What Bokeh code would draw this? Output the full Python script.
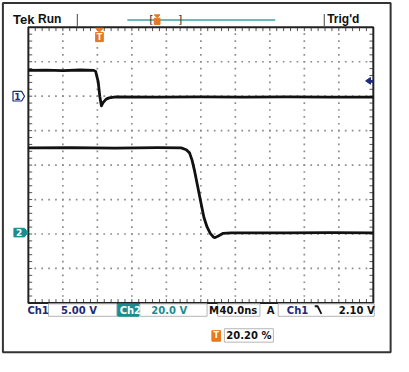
import numpy as np
from bokeh.plotting import figure
from bokeh.models import Range1d
from bokeh.core.properties import value
from bokeh.embed import file_html
from bokeh.resources import INLINE

# ---------------- data ----------------
# time in ns (40 ns/div, 10 div), voltages in V
ch1_t = [0, 20, 40, 60, 75.8, 78.0, 81.0, 82.8, 84.7, 86.6, 90.2, 93.6, 101.4, 150, 200, 250, 300, 350, 400]
ch1_v = [3.75, 3.78, 3.72, 3.8, 3.75, 3.6, 2.08, 0.0, -1.39, -0.93, -0.42, -0.24, -0.1, -0.12, -0.1, -0.12, -0.1, -0.14, -0.12]
ch2_t = [0, 50, 100, 150, 177.2, 183.1, 186.9, 189.8, 192.4, 196.1, 199.8, 203.6, 207.2, 210.9, 214.7, 216.5, 220.3, 225.9, 235.1, 300, 350, 400]
ch2_v = [50, 50.2, 49.8, 50.1, 50, 48.9, 47.1, 42.9, 37.4, 28.2, 18.9, 9.6, 4.1, 0.4, -1.8, -2.1, -1.1, 0.4, 0.7, 0.6, 0.8, 0.7]
ch1_scale, ch1_offset = 5.0, 2.0     # V/div, ground position (div)
ch2_scale, ch2_offset = 20.0, -2.0
time_per_div = 40.0
labels_bottom = ["Ch1", "5.00 V", "Ch2", "20.0 V", "M", "40.0ns", "A", "Ch1", "2.10 V"]
trig_pos = "20.20 %"

# ---------------- layout helpers (reference pixel -> data) ----------------
def X(rx):
    return (rx - 29.0) * (10 * time_per_div) / 359.0

def Y(ry):
    return (172.0 - ry) / 36.0

W, H = 393, 356
p = figure(width=W, height=H, output_backend="svg", toolbar_location=None,
           x_range=Range1d(X(0), X(409)), y_range=Range1d(Y(372), Y(0)),
           x_axis_type=None, y_axis_type=None, min_border=0,
           background_fill_color="white", border_fill_color="white")
p.grid.visible = False
p.outline_line_color = None

NAVY = "#1f2a78"
TEAL = "#1e8c8e"
ORANGE = "#e8781e"
FONT = value("DejaVu Sans")

# outer frame
p.quad(left=[X(2.5)], right=[X(406)], top=[Y(2.5)], bottom=[Y(367.5)], fill_color=None,
       line_color="#333333", line_width=2)

# ---------------- graticule ----------------
T = 10 * time_per_div
gx, gy = [], []
for k in range(1, 10):
    for yy in np.arange(-3.8, 3.81, 0.2):
        gx.append(k * time_per_div); gy.append(yy)
for j in range(-3, 4):
    for xx in np.arange(time_per_div / 5, T - 1, time_per_div / 5):
        gx.append(xx); gy.append(j)
p.scatter(gx, gy, marker="square", size=1.7, fill_color="#8c8c8c", line_color=None)

tl_x = 4 * T / 359.0
tl_y = 4 / 36.0
tx = np.arange(time_per_div / 5, T - 1, time_per_div / 5)
ty = np.arange(-3.8, 3.81, 0.2)
p.segment(x0=tx, y0=[4] * len(tx), x1=tx, y1=[4 - tl_y] * len(tx), line_color="#555555", line_width=1)
p.segment(x0=tx, y0=[-4] * len(tx), x1=tx, y1=[-4 + tl_y] * len(tx), line_color="#555555", line_width=1)
p.segment(x0=[0] * len(ty), y0=ty, x1=[tl_x] * len(ty), y1=ty, line_color="#555555", line_width=1)
p.segment(x0=[T] * len(ty), y0=ty, x1=[T - tl_x] * len(ty), y1=ty, line_color="#555555", line_width=1)
p.quad(left=[0], right=[T], bottom=[-4], top=[4], fill_color=None, line_color="#222222", line_width=2)

# ---------------- traces ----------------
y1 = [ch1_offset + v / ch1_scale for v in ch1_v]
y2 = [ch2_offset + v / ch2_scale for v in ch2_v]
p.line(ch1_t, y1, line_color="#111111", line_width=2.8, line_join="round")
p.line(ch2_t, y2, line_color="#111111", line_width=2.8, line_join="round")

# ---------------- channel markers ----------------
p.patch([X(13), X(22), X(25), X(22), X(13)], [Y(95), Y(95), Y(100), Y(105), Y(105)],
        fill_color="white", line_color=NAVY, line_width=1.2)
p.text([X(17.5)], [Y(100)], text=["1"], text_font=FONT, text_font_size="9px", text_font_style="bold",
       text_color=NAVY, text_align="center", text_baseline="middle")
p.patch([X(14), X(25), X(28.5), X(25), X(14)], [Y(238), Y(238), Y(242.5), Y(247), Y(247)],
        fill_color=TEAL, line_color=TEAL, line_width=1)
p.text([X(19.5)], [Y(242.5)], text=["2"], text_font=FONT, text_font_size="9px", text_font_style="bold",
       text_color="white", text_align="center", text_baseline="middle")
# trigger level arrow
p.patch([X(380), X(385), X(385)], [Y(84), Y(80.5), Y(87.5)], fill_color=NAVY, line_color=NAVY)
p.line([X(384), X(388)], [Y(84), Y(84)], line_color=NAVY, line_width=2)

# trigger position marker on graticule
p.patch([X(99), X(107), X(103)], [Y(29), Y(29), Y(33)], fill_color=ORANGE, line_color=ORANGE)
p.quad(left=[X(99)], right=[X(107)], top=[Y(33.5)], bottom=[Y(43)], fill_color=ORANGE, line_color=ORANGE)
p.text([X(103)], [Y(38.5)], text=["T"], text_font=FONT, text_font_size="8px", text_font_style="bold",
       text_color="white", text_align="center", text_baseline="middle")

# ---------------- top bar ----------------
p.text([X(13)], [Y(19.5)], text=["Tek"], text_font=value("Liberation Sans"), text_font_size="13px",
       text_font_style="bold", text_color="#111111", text_align="left", text_baseline="middle")
p.text([X(39)], [Y(19.5)], text=["Run"], text_font=value("Liberation Sans"), text_font_size="12px",
       text_font_style="bold", text_color="#111111", text_align="left", text_baseline="middle")
p.text([X(340)], [Y(19.5)], text=["Trig'd"], text_font=value("Liberation Sans"), text_font_size="12px",
       text_font_style="bold", text_color="#111111", text_align="left", text_baseline="middle")
p.segment(x0=[X(80), X(337)], y0=[Y(14), Y(14)], x1=[X(80), X(337)], y1=[Y(27), Y(27)],
          line_color="#666666", line_width=1.2)
p.line([X(132), X(286)], [Y(20.5), Y(20.5)], line_color="#3aa3a3", line_width=1.5)
p.text([X(157), X(187)], [Y(20), Y(20)], text=["[", "]"], text_font=FONT, text_font_size="11px",
       text_color="#333333", text_align="center", text_baseline="middle")
p.patch([X(160), X(166), X(163)], [Y(15), Y(15), Y(18)], fill_color=ORANGE, line_color=ORANGE)
p.quad(left=[X(160)], right=[X(166)], top=[Y(18.5)], bottom=[Y(25)], fill_color=ORANGE, line_color=ORANGE)

# ---------------- bottom status row ----------------
p.quad(left=[X(50), X(145), X(226), X(289)], right=[X(121), X(215), X(270), X(389)],
       top=[Y(317)] * 4, bottom=[Y(330)] * 4, fill_color="white", line_color="#b5b5b5", line_width=1)
p.quad(left=[X(122)], right=[X(144)], top=[Y(317)], bottom=[Y(330)], fill_color=TEAL, line_color=TEAL)
bx = [X(28), X(63), X(124), X(157), X(217), X(228), X(277), X(298), X(352)]
bc = [NAVY, NAVY, "white", TEAL, "#111111", "#111111", "#111111", NAVY, "#111111"]
p.text(bx, [Y(323.5)] * len(bx), text=labels_bottom, text_font=FONT, text_font_size="10px",
       text_font_style="bold", text_color=bc, text_align="left", text_baseline="middle")
# falling-edge symbol
p.line([X(327), X(330), X(334)], [Y(319.5), Y(319.5), Y(327.5)], line_color="#111111", line_width=1.8)

# trigger position readout
p.quad(left=[X(220)], right=[X(229)], top=[Y(345)], bottom=[Y(356)], fill_color=ORANGE, line_color=ORANGE)
p.text([X(224.5)], [Y(350.5)], text=["T"], text_font=FONT, text_font_size="8px", text_font_style="bold",
       text_color="white", text_align="center", text_baseline="middle")
p.quad(left=[X(233)], right=[X(284)], top=[Y(343)], bottom=[Y(357)], fill_color="white",
       line_color="#b5b5b5", line_width=1)
p.text([X(235)], [Y(350.5)], text=[trig_pos], text_font=FONT, text_font_size="10px",
       text_font_style="bold", text_color="#111111", text_align="left", text_baseline="middle")

open("out.html", "w").write(file_html(p, INLINE))
